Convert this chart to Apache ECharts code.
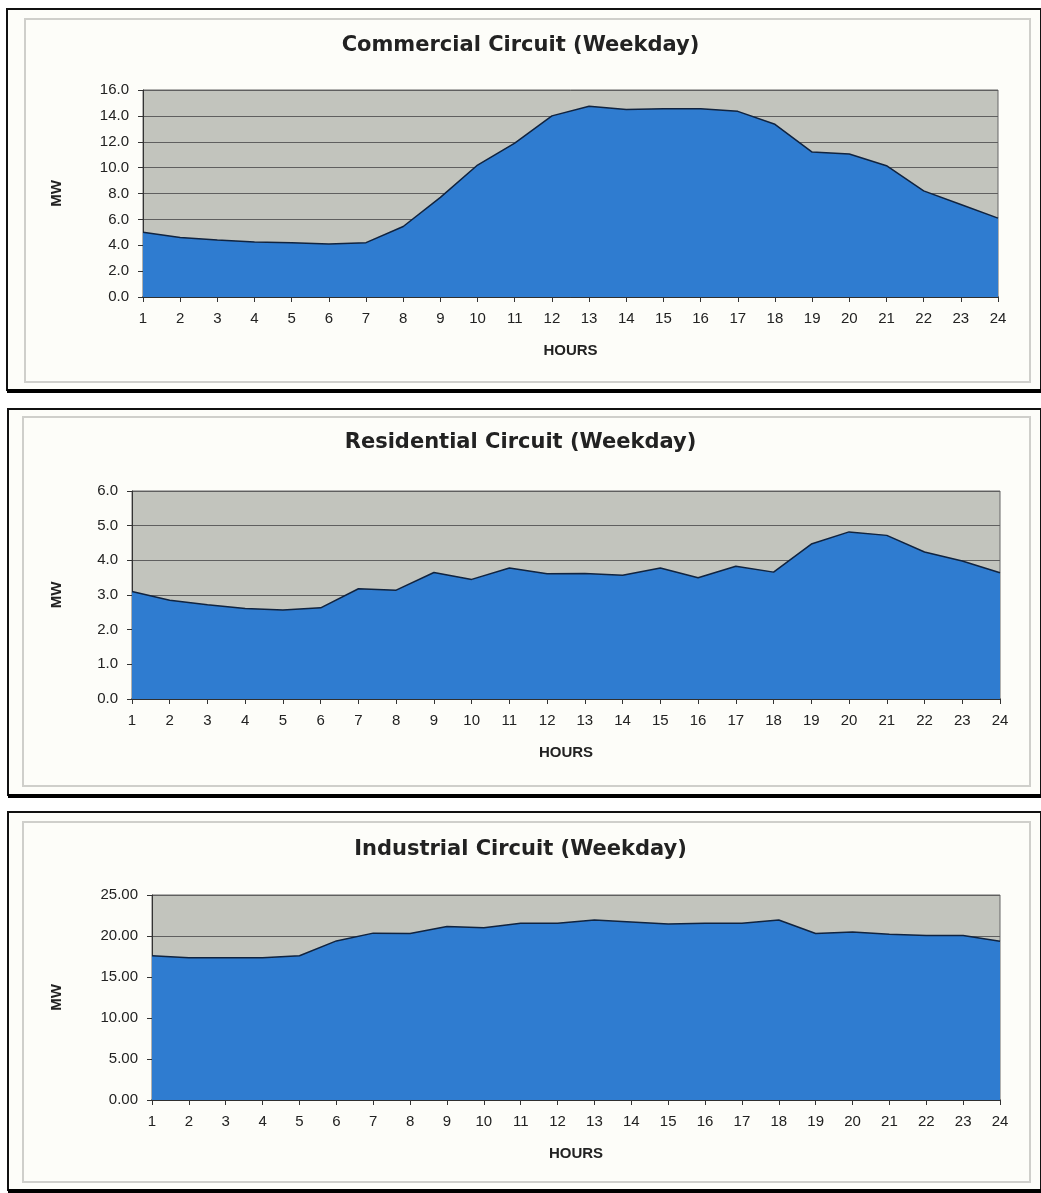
<!DOCTYPE html>
<html>
<head>
<meta charset="utf-8">
<script src="https://cdn.jsdelivr.net/npm/echarts@6/dist/echarts.min.js"></script>
<style>
html,body{margin:0;padding:0;background:#ffffff;}
#c{width:1041px;height:1193px;}
</style>
</head>
<body>
<div id="c"></div>
<script>
const hours = ['1','2','3','4','5','6','7','8','9','10','11','12','13','14','15','16','17','18','19','20','21','22','23','24'];
const commercialMW = [5.0, 4.6, 4.4, 4.25, 4.2, 4.1, 4.2, 5.45, 7.7, 10.2, 11.9, 14.0, 14.75, 14.5, 14.55, 14.55, 14.35, 13.35, 11.2, 11.05, 10.15, 8.2, 7.15, 6.1];
const residentialMW = [3.1, 2.85, 2.72, 2.61, 2.57, 2.63, 3.18, 3.14, 3.65, 3.45, 3.78, 3.61, 3.62, 3.57, 3.78, 3.5, 3.83, 3.66, 4.47, 4.82, 4.72, 4.24, 3.98, 3.64];
const industrialMW = [17.6, 17.35, 17.35, 17.35, 17.6, 19.4, 20.35, 20.3, 21.15, 21.0, 21.55, 21.55, 21.95, 21.7, 21.45, 21.55, 21.55, 21.95, 20.3, 20.5, 20.2, 20.05, 20.05, 19.35];
const titles = ['Commercial Circuit (Weekday)', 'Residential Circuit (Weekday)', 'Industrial Circuit (Weekday)'];
const yMax = [16, 6, 25];
const yStep = [2, 1, 5];
const yDecimals = [1, 1, 2];

const chart = echarts.init(document.getElementById('c'));
const grids = [
  {left:143, right:43, top:90, height:207},
  {left:132, right:41, top:491, height:208},
  {left:152, right:41, top:895, height:205}
];
const nameGapY = [79, 68, 88];
const titleTops = [30, 427, 834];
const panels = [
  {outer:[7,9,1034,381], inner:[25,19,1005,363]},
  {outer:[8,409,1033,386], inner:[23,417,1007,369]},
  {outer:[8,812,1033,378], inner:[23,822,1007,360]}
];
const datasets = [commercialMW, residentialMW, industrialMW];

const graphic = [];
panels.forEach(p => {
  graphic.push({type:'rect', z:-10, shape:{x:p.outer[0], y:p.outer[1], width:p.outer[2], height:p.outer[3]},
    style:{fill:'#fdfdf9', stroke:'#111', lineWidth:2}});
  graphic.push({type:'line', z:-9, shape:{x1:p.outer[0], y1:p.outer[1]+p.outer[3]+1, x2:1041, y2:p.outer[1]+p.outer[3]+1},
    style:{stroke:'#000', lineWidth:4}});
  graphic.push({type:'rect', z:-9, shape:{x:p.inner[0], y:p.inner[1], width:p.inner[2], height:p.inner[3]},
    style:{fill:'none', stroke:'#cfcfcb', lineWidth:2}});
});

const option = {
  animation:false,
  backgroundColor:'#ffffff',
  graphic: graphic,
  title: titles.map((t,i)=>({text:t, left:'center', top:titleTops[i],
    textStyle:{fontFamily:'DejaVu Sans', fontWeight:'bold', fontSize:21, color:'#222'}})),
  grid: grids.map(g=>Object.assign({show:true, backgroundColor:'#c2c4bd', borderColor:'#666', borderWidth:1}, g)),
  xAxis: grids.map((g,i)=>({
    type:'category', gridIndex:i, data:hours, boundaryGap:false,
    name:'HOURS', nameLocation:'middle', nameGap:46,
    nameTextStyle:{fontFamily:'Liberation Sans', fontWeight:'bold', fontSize:15, color:'#222'},
    axisLine:{lineStyle:{color:'#222', width:1.5}},
    axisTick:{show:true, length:5, alignWithLabel:true, lineStyle:{color:'#333'}},
    axisLabel:{margin:14, fontFamily:'Liberation Sans', fontSize:15, color:'#222', interval:0}
  })),
  yAxis: grids.map((g,i)=>({
    type:'value', gridIndex:i, min:0, max:yMax[i], interval:yStep[i],
    name:'MW', nameLocation:'middle', nameGap:nameGapY[i], nameRotate:90,
    nameTextStyle:{fontFamily:'Liberation Sans', fontWeight:'bold', fontSize:15, color:'#222'},
    axisLine:{show:true, lineStyle:{color:'#333', width:1}},
    axisTick:{show:true, length:5, lineStyle:{color:'#333'}},
    axisLabel:{margin:14, fontFamily:'Liberation Sans', fontSize:15, color:'#222',
      formatter: v => v.toFixed(yDecimals[i])},
    splitLine:{show:true, lineStyle:{color:'#5f5f5f', width:1}}
  })),
  series: datasets.map((d,i)=>({
    type:'line', xAxisIndex:i, yAxisIndex:i, data:d, symbol:'none', smooth:false,
    lineStyle:{color:'#10233f', width:1.5},
    areaStyle:{color:'#2f7cd0', opacity:1}
  }))
};
chart.setOption(option);
</script>
</body>
</html>
